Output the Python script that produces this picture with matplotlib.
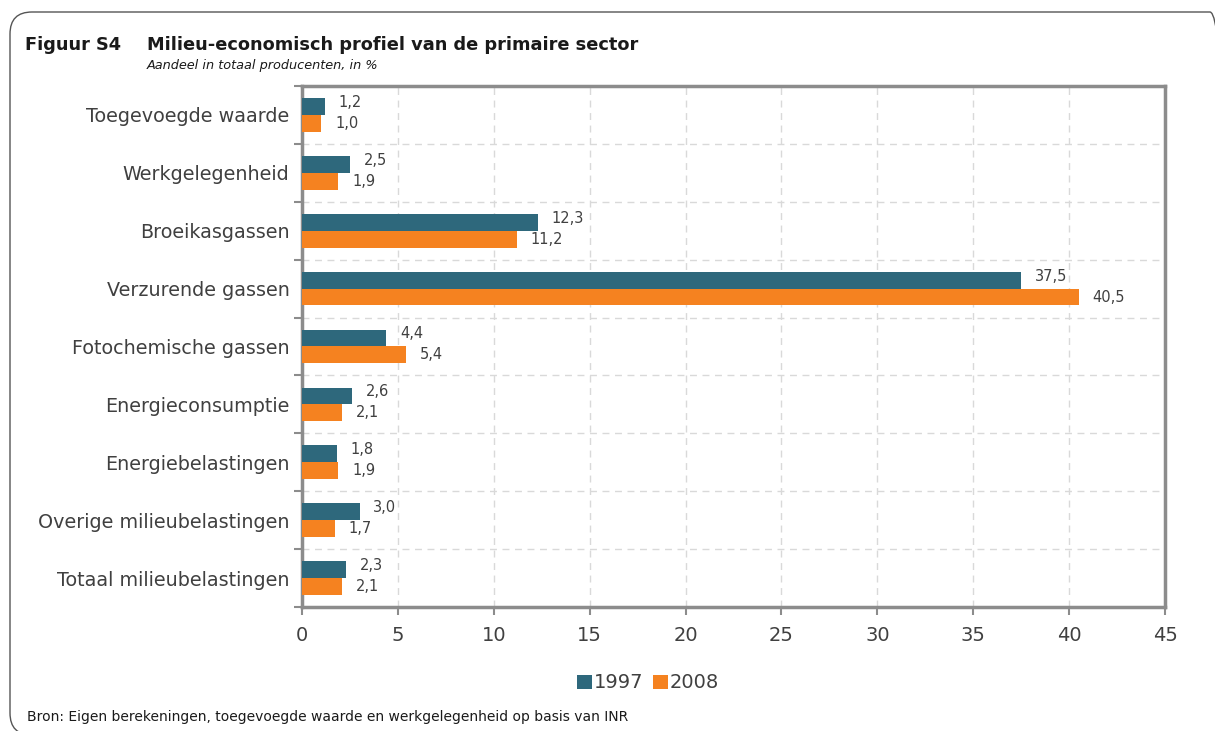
import numpy as np
import matplotlib
matplotlib.use("Agg")
import matplotlib.pyplot as plt
from matplotlib.patches import FancyBboxPatch

categories = ["Toegevoegde waarde", "Werkgelegenheid", "Broeikasgassen",
              "Verzurende gassen", "Fotochemische gassen", "Energieconsumptie",
              "Energiebelastingen", "Overige milieubelastingen",
              "Totaal milieubelastingen"]
v1997 = [1.2, 2.5, 12.3, 37.5, 4.4, 2.6, 1.8, 3.0, 2.3]
v2008 = [1.0, 1.9, 11.2, 40.5, 5.4, 2.1, 1.9, 1.7, 2.1]
xticks = [0, 5, 10, 15, 20, 25, 30, 35, 40, 45]

teal = "#2E687C"
orange = "#F58220"
spine_col = "#8C8C8C"

W, H = 1215, 731
fig = plt.figure(figsize=(W / 100, H / 100), dpi=100)

# rounded frame, running off the right and bottom edges
frame = FancyBboxPatch((10, -4), 1222, 723, boxstyle="round,pad=0,rounding_size=22",
                       transform=None, fill=False,
                       edgecolor="#555555", linewidth=1.0)
fig.patches.append(frame)

ax = fig.add_axes([302 / W, 1 - 607 / H, 863 / W, 521 / H])

y = np.arange(len(categories))
h = 0.29
ax.barh(y - h / 2, v1997, height=h, color=teal, label="1997", zorder=3)
ax.barh(y + h / 2, v2008, height=h, color=orange, label="2008", zorder=3)

for i in range(len(categories)):
    ax.annotate(f"{v1997[i]:.1f}".replace(".", ","), (v1997[i], y[i] - h / 2),
                xytext=(10, 3), textcoords="offset points", ha="left",
                va="center", fontsize=10.5, color="#404040")
    ax.annotate(f"{v2008[i]:.1f}".replace(".", ","), (v2008[i], y[i] + h / 2),
                xytext=(10, 0), textcoords="offset points", ha="left",
                va="center", fontsize=10.5, color="#404040")

ax.set_xlim(0, 45)
ax.set_ylim(len(categories) - 0.5, -0.5)
ax.set_xticks(xticks)
ax.set_xticklabels([str(t) for t in xticks], fontsize=14, color="#404040")
ax.set_yticks(y)
ax.set_yticklabels(categories, fontsize=13.8, color="#404040")
ax.set_yticks(np.arange(len(categories) + 1) - 0.5, minor=True)
ax.tick_params(axis="y", which="major", length=0, pad=9)
ax.tick_params(axis="y", which="minor", length=6, width=1.5, color=spine_col)
ax.tick_params(axis="x", which="major", length=6, width=1.5, color=spine_col, pad=8)

ax.grid(axis="x", which="major", linestyle=(0, (5, 4)), color="#D9D9D9", linewidth=1, zorder=0)
ax.grid(axis="y", which="minor", linestyle=(0, (5, 4)), color="#D9D9D9", linewidth=1, zorder=0)

for side in ["left", "bottom", "top", "right"]:
    ax.spines[side].set_color(spine_col)
    ax.spines[side].set_linewidth(2.5)

fig.legend(handles=ax.get_legend_handles_labels()[0], labels=["1997", "2008"],
           loc="center", bbox_to_anchor=(648 / W, 1 - 683 / H), ncol=2,
           frameon=False, fontsize=14, handlelength=0.75, handleheight=0.75,
           handletextpad=0.1, columnspacing=0.5,
           labelcolor="#404040")

fig.text(25 / W, 1 - 45 / H, "Figuur S4", fontsize=12.8, fontweight="bold",
         va="center", color="#1a1a1a")
fig.text(147 / W, 1 - 45 / H, "Milieu-economisch profiel van de primaire sector",
         fontsize=12.8, fontweight="bold", va="center", color="#1a1a1a")
fig.text(147 / W, 1 - 66 / H, "Aandeel in totaal producenten, in %",
         fontsize=9.3, style="italic", va="center", color="#1a1a1a")
fig.text(27 / W, 1 - 717 / H,
         "Bron: Eigen berekeningen, toegevoegde waarde en werkgelegenheid op basis van INR",
         fontsize=10, va="center", color="#1a1a1a")

fig.savefig("out.png", dpi=100)
